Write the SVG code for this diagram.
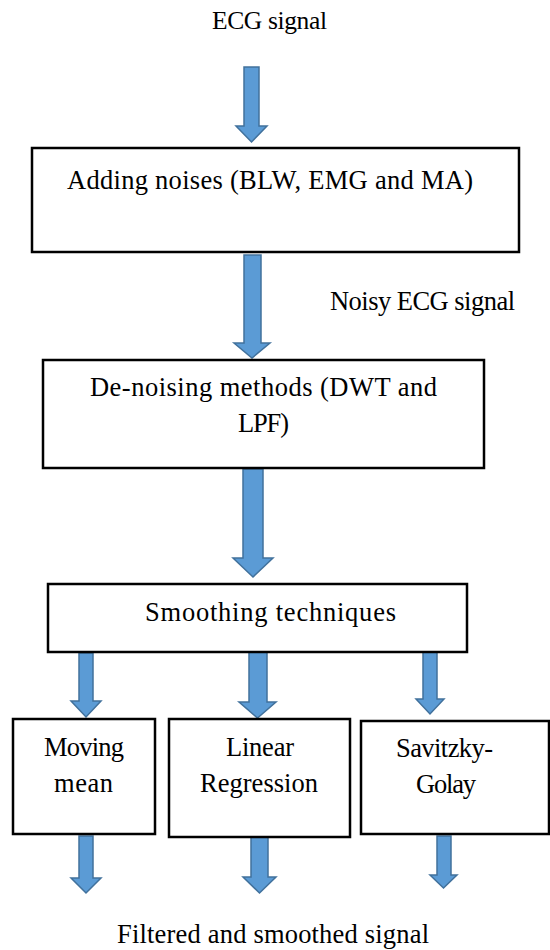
<svg xmlns="http://www.w3.org/2000/svg" width="550" height="950" viewBox="0 0 550 950">
<style>
  .box { fill: #ffffff; stroke: #000000; stroke-width: 2.5; }
  .arrow { fill: #5B9BD5; stroke: #41719C; stroke-width: 1.5; stroke-linejoin: miter; }
  text { font-family: "Liberation Serif", "Times New Roman", serif; font-size: 26.5px; fill: #000000; text-anchor: middle; }
</style>
<rect width="550" height="950" fill="#ffffff"/>
<g id="connectors">
  <path class="arrow" d="M244,67 H259 V126 H267 L251.5,142 L236,126 H244 Z"/>
  <path class="arrow" d="M244,255 H261 V343 H270 L252,358 L234,343 H244 Z"/>
  <path class="arrow" d="M243,469 H263 V558 H273 L253,577 L233,558 H243 Z"/>
  <path class="arrow" d="M79,653 H93 V701 H101 L86,717 L71,701 H79 Z"/>
  <path class="arrow" d="M249,652 H267 V702 H276 L257.5,718 L239,702 H249 Z"/>
  <path class="arrow" d="M423,649 H437 V699 H444 L430,714 L416,699 H423 Z"/>
  <path class="arrow" d="M79,836 H93 V878 H101 L86,893 L71,878 H79 Z"/>
  <path class="arrow" d="M251,837 H268 V877 H276 L259.5,893 L243,877 H251 Z"/>
  <path class="arrow" d="M437,836 H451 V875 H457 L443.5,888 L430,875 H437 Z"/>
</g>
<g id="input">
  <text x="269.5" y="29" style="font-size:25.5px" textLength="115" lengthAdjust="spacing">ECG signal</text>
</g>
<g id="adding-noises">
  <rect class="box" x="32" y="148" width="487" height="104"/>
  <text x="270" y="189" textLength="406" lengthAdjust="spacing">Adding noises (BLW, EMG and MA)</text>
</g>
<g id="noisy-label">
  <text x="422.5" y="310" textLength="185" lengthAdjust="spacing">Noisy ECG signal</text>
</g>
<g id="denoising">
  <rect class="box" x="43" y="360" width="441" height="108"/>
  <text x="263.5" y="396" textLength="347" lengthAdjust="spacing">De-noising methods (DWT and</text>
  <text x="263.5" y="432" textLength="51" lengthAdjust="spacing">LPF)</text>
</g>
<g id="smoothing">
  <rect class="box" x="48" y="584" width="419" height="68"/>
  <text x="270.5" y="621" textLength="251" lengthAdjust="spacing">Smoothing techniques</text>
</g>
<g id="moving-mean">
  <rect class="box" x="13" y="719" width="142" height="115"/>
  <text x="84" y="756" textLength="80" lengthAdjust="spacing">Moving</text>
  <text x="83.5" y="792" textLength="59" lengthAdjust="spacing">mean</text>
</g>
<g id="linear-regression">
  <rect class="box" x="169" y="719" width="181" height="118"/>
  <text x="260" y="756" textLength="68" lengthAdjust="spacing">Linear</text>
  <text x="259" y="792" textLength="118" lengthAdjust="spacing">Regression</text>
</g>
<g id="savitzky-golay">
  <rect class="box" x="361" y="721" width="188" height="113"/>
  <text x="444.5" y="757" textLength="97" lengthAdjust="spacing">Savitzky-</text>
  <text x="446" y="793" textLength="60" lengthAdjust="spacing">Golay</text>
</g>
<g id="output">
  <text x="273" y="943" textLength="312" lengthAdjust="spacing">Filtered and smoothed signal</text>
</g>
</svg>
